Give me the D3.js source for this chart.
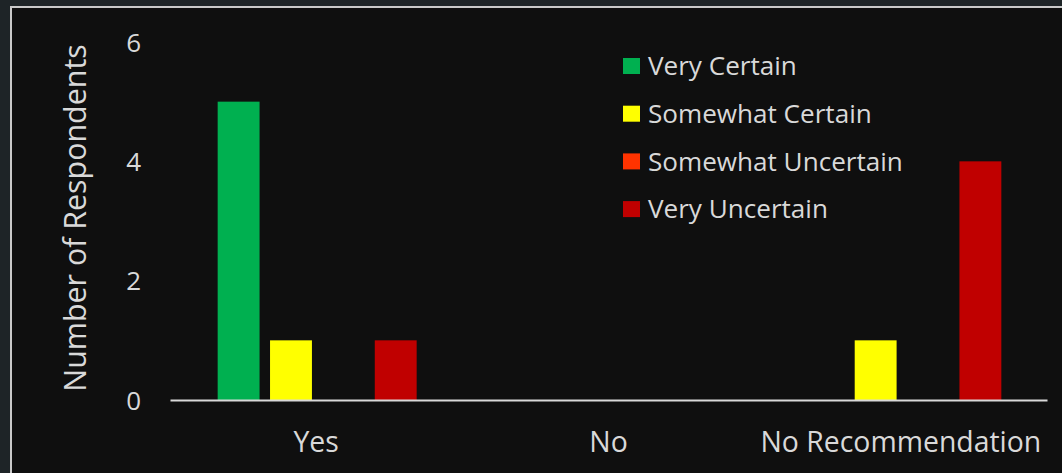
<!DOCTYPE html>
<html>
<head>
<meta charset="utf-8">
<script src="https://cdn.jsdelivr.net/npm/d3@7"></script>
<style>
  html, body { margin: 0; padding: 0; background: #1e2427; }
  svg { display: block; }
  text { font-family: "Open Sans", Lato, sans-serif; fill: #d9d9d9; }
</style>
</head>
<body>
<svg id="chart" width="1062" height="473"></svg>
<script>
// Survey answers grouped by recommendation
const categories = ["Yes", "No", "No Recommendation"];
const seriesNames = ["Very Certain", "Somewhat Certain", "Somewhat Uncertain", "Very Uncertain"];
const veryCertain = [5, 0, 0];
const somewhatCertain = [1, 0, 1];
const somewhatUncertain = [0, 0, 0];
const veryUncertain = [1, 0, 4];
const yTicks = [0, 2, 4, 6];
const seriesColors = ["#00b050", "#ffff00", "#ff3300", "#c00000"];

const seriesValues = [veryCertain, somewhatCertain, somewhatUncertain, veryUncertain];

const svg = d3.select("#chart");
const W = 1062, H = 473;

// chart frame
svg.append("rect").attr("x", 0).attr("y", 0).attr("width", W).attr("height", H).attr("fill", "#1e2427");
svg.append("rect").attr("x", 11).attr("y", 7).attr("width", W + 20).attr("height", H + 20)
  .attr("fill", "#0f0f0f").attr("stroke", "#c9c9c9").attr("stroke-width", 2);

const plot = { left: 170, right: 1047, top: 42, bottom: 400 };

const x0 = d3.scaleBand().domain(categories).range([plot.left, plot.right]).padding(0);
const groupWidth = 199;
const x1 = d3.scaleBand().domain(seriesNames).range([0, groupWidth]).paddingInner(0.2).paddingOuter(0);
const y = d3.scaleLinear().domain([0, 6]).range([plot.bottom, plot.top]);

// bars
const rows = [];
categories.forEach((c, ci) => {
  seriesNames.forEach((s, si) => {
    rows.push({ cat: c, series: s, value: seriesValues[si][ci], color: seriesColors[si] });
  });
});

const groupOffset = (x0.bandwidth() - groupWidth) / 2 + 1;
svg.append("g").selectAll("rect").data(rows.filter(d => d.value > 0)).join("rect")
  .attr("x", d => x0(d.cat) + groupOffset + x1(d.series))
  .attr("y", d => y(d.value))
  .attr("width", x1.bandwidth())
  .attr("height", d => y(0) - y(d.value))
  .attr("fill", d => d.color);

// y axis labels (no axis line)
const yAxis = d3.axisLeft(y).tickValues(yTicks).tickSize(0).tickPadding(0).tickFormat(d3.format("d"));
const yg = svg.append("g").attr("transform", `translate(141,0)`).call(yAxis);
yg.select(".domain").remove();
yg.selectAll("text").attr("font-size", 26).attr("font-family", null).style("fill", "#d9d9d9").attr("dy", "0.35em");

// x axis
const xAxis = d3.axisBottom(x0).tickSize(0).tickPadding(0);
const xg = svg.append("g").attr("transform", `translate(0,${plot.bottom})`).call(xAxis);
xg.select(".domain").attr("stroke", "#d9d9d9").attr("stroke-width", 2.2);
xg.selectAll("text").attr("font-size", 28.4).attr("font-family", null).style("fill", "#d9d9d9").attr("y", 42).attr("dy", "0.35em");

// y axis title
svg.append("text")
  .attr("transform", `translate(75,${(plot.top + plot.bottom) / 2 - 3}) rotate(-90)`)
  .attr("text-anchor", "middle").attr("dy", "0.35em")
  .attr("font-size", 30.4)
  .text("Number of Respondents");

// legend
const legend = svg.append("g").attr("transform", "translate(623,66)");
const li = legend.selectAll("g").data(seriesNames).join("g")
  .attr("transform", (d, i) => `translate(0,${i * 47.7})`);
li.append("rect").attr("x", 0).attr("y", -8).attr("width", 17).attr("height", 16)
  .attr("fill", (d, i) => seriesColors[i]);
li.append("text").attr("x", 25).attr("dy", "0.35em").attr("font-size", 26.1).text(d => d);
</script>
</body>
</html>
